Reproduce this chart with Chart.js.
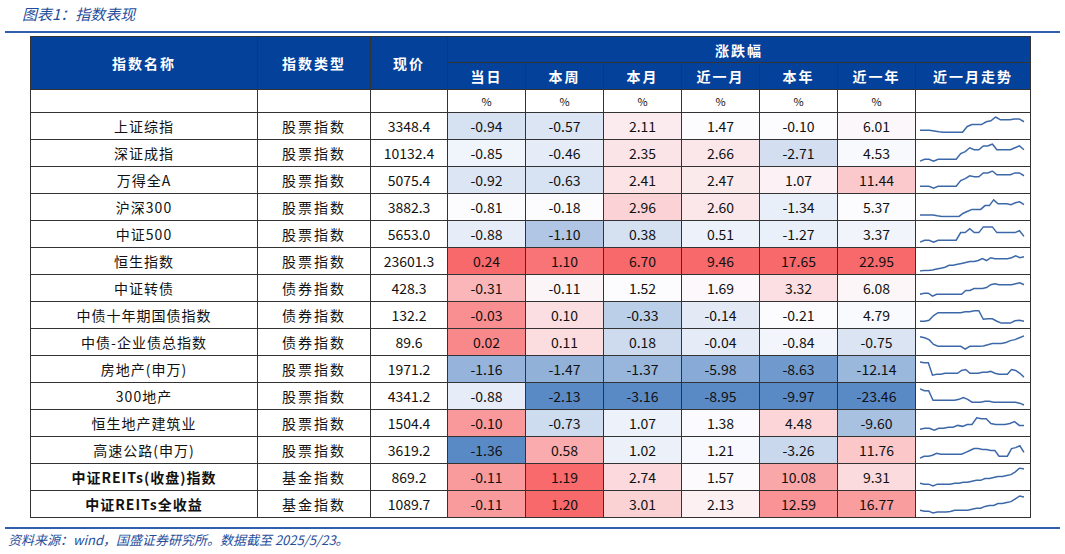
<!DOCTYPE html>
<html><head><meta charset="utf-8">
<script src="https://cdn.jsdelivr.net/npm/chart.js@4"></script>
<style>
body{margin:0;width:1065px;height:554px;background:#fff;font-family:"Noto Sans CJK SC",sans-serif;overflow:hidden;position:relative}
.title{position:absolute;left:22px;top:3px;font-size:15px;color:#1f4e9c;font-style:italic}
.topline{position:absolute;left:5px;top:31px;width:1055px;height:2px;background:#2f5fad}
.botline{position:absolute;left:5px;top:527px;width:1055px;height:2px;background:#2f5fad}
.src{position:absolute;left:8px;top:530px;font-size:13px;color:#1f4e9c;font-style:italic}
table{position:absolute;left:30px;top:36px;border-collapse:collapse;table-layout:fixed}
td,th{border:1px solid #333;padding:0;text-align:center;font-size:14px;color:#111;overflow:hidden}
th{background:#03419a;color:#fff;font-weight:bold;font-size:14px;letter-spacing:2px}
td.b{font-weight:bold}
canvas{display:block}
</style></head><body>
<div class="title">图表1：指数表现</div>
<div class="topline"></div>
<table id="t"></table>
<div class="botline"></div>
<div class="src">资料来源：wind，国盛证券研究所。数据截至 2025/5/23。</div>
<script>
const names = ['上证综指','深证成指','万得全A','沪深300','中证500','恒生指数','中证转债','中债十年期国债指数','中债-企业债总指数','房地产(申万)','300地产','恒生地产建筑业','高速公路(申万)','中证REITs(收盘)指数','中证REITs全收益'];
const types = ['股票指数','股票指数','股票指数','股票指数','股票指数','股票指数','债券指数','债券指数','债券指数','股票指数','股票指数','股票指数','股票指数','基金指数','基金指数'];
const prices = ['3348.4','10132.4','5075.4','3882.3','5653.0','23601.3','428.3','132.2','89.6','1971.2','4341.2','1504.4','3619.2','869.2','1089.7'];
const periods = ['当日','本周','本月','近一月','本年','近一年'];
const day = [-0.94,-0.85,-0.92,-0.81,-0.88,0.24,-0.31,-0.03,0.02,-1.16,-0.88,-0.10,-1.36,-0.11,-0.11];
const week = [-0.57,-0.46,-0.63,-0.18,-1.10,1.10,-0.11,0.10,0.11,-1.47,-2.13,-0.73,0.58,1.19,1.20];
const month = [2.11,2.35,2.41,2.96,0.38,6.70,1.52,-0.33,0.18,-1.37,-3.16,1.07,1.02,2.74,3.01];
const oneMonth = [1.47,2.66,2.47,2.60,0.51,9.46,1.69,-0.14,-0.04,-5.98,-8.95,1.38,1.21,1.57,2.13];
const ytd = [-0.10,-2.71,1.07,-1.34,-1.27,17.65,3.32,-0.21,-0.84,-8.63,-9.97,4.48,-3.26,10.08,12.59];
const oneYear = [6.01,4.53,11.44,5.37,3.37,22.95,6.08,4.79,-0.75,-12.14,-23.46,-9.60,11.76,9.31,16.77];
const trends = [
  [3,3,3,2.6,2.2,2,2,2,2,2,5,6,6,6,7.5,8,10,8.5,8.5,8.5,9,9,7.5],
  [1,2,2,1,2,2,2,2,2,5,6,8,7,7,9,9,10,7,7,7,7,8,9,7],
  [2,2,2,1,2,2,2,2,2,5,6,7.5,7,7,9,9,10,8,8,8,8,9,9,7.5],
  [1,1,1,1,0.6,0.3,0.3,0.3,0.3,0.3,2,3,4,4,4,6,6,9,7,7,7,6.5,7.5,8,6.5],
  [1,2,2,1,2,2,2,2,2,6,6,8,6,6,9,9,9,6,6,6,6,6,7,4],
  [0,0.2,0.3,0.5,1,1.5,2,3,3,3.5,4,4.5,5,5,5.5,6.5,5.5,7,6.5,6.5,6.5,6.5,7,8,7,7.5],
  [2,2.5,2.5,1,2,2,2,2,2,2,2,4,4,5,5,5,5.5,7,7.5,7,7,7,7,7.5,8,7],
  [2,2,2.5,5,6.5,6.5,6.5,6.5,6.5,6.5,7,7,7.5,7.5,3,3.3,3.3,2,1,1,1,2.2,2.5,2],
  [8,7.5,6.5,4,3,3,3,3,3,3,1.5,3,3,3,3.2,3.8,4.5,4.5,4.5,5,6,6.5,7.5,8.5],
  [9,8.5,8.5,2,2.5,2.5,3,3,3,3,4.5,5,3,3,3,3.5,3.5,4,3,2.5,2.5,2.5,5,4.5,3,1],
  [9,8,8,3,3,3,3,3,3,3.5,4.5,3.5,2,2,2,2.5,2.5,2,2,2,2,2,2,1.5,0.5],
  [2,2.5,2.5,1.5,2.5,2.5,3,3,4,3.5,4.5,4.5,8,7.5,7.5,5,4.5,4.5,4.5,5,6,4,4],
  [1,2,2,2.5,3.5,3,3,3,3,3,3,4,5,6,6,5.5,5.5,5,5,2,2,2,6,6.5,7.5,4],
  [2,1.5,1.5,0.5,1.5,1.5,1.5,1.5,2,2,2.5,2.5,3,3.5,3.5,4.5,4.5,5,5.5,5.5,6,6.5,8,10,9.5],
  [2,1.5,1.5,0.5,1,1,1,1.3,2,2,2,2,2.5,3,3,4,4.5,4.5,5.5,5.5,6,6.5,8,9.5,9]
];
const cols = [day, week, month, oneMonth, ytd, oneYear];
const widths = [227,113,77,78,78,78,78,78,78,115];

function mix(a, b, t) {
  return 'rgb(' + a.map((v, i) => Math.round(v + (b[i] - v) * t)).join(',') + ')';
}
function colour(v, arr) {
  const s = [...arr].sort((x, y) => x - y);
  const mid = s[Math.floor(s.length / 2)], lo = s[0], hi = s[s.length - 1];
  const white = [252,252,255];
  if (v >= mid) return mix(white, [248,105,107], hi === mid ? 0 : (v - mid) / (hi - mid));
  return mix(white, [90,138,198], (mid - v) / (mid - lo));
}

const t = document.getElementById('t');
let h = '<colgroup>' + widths.map(w => `<col style="width:${w}px">`).join('') + '</colgroup>';
h += '<tr style="height:26px"><th rowspan="2">指数名称</th><th rowspan="2">指数类型</th><th rowspan="2">现价</th><th colspan="7">涨跌幅</th></tr>';
h += '<tr style="height:27px">' + periods.map(p => `<th>${p}</th>`).join('') + '<th>近一月走势</th></tr>';
h += '<tr style="height:23px"><td></td><td></td><td></td>' + periods.map(() => '<td style="font-size:11px">%</td>').join('') + '<td></td></tr>';
names.forEach((n, i) => {
  const b = i >= 13 ? ' class="b"' : '';
  h += `<tr style="height:27px"><td${b} style="letter-spacing:1px">${n}</td><td style="letter-spacing:2px">${types[i]}</td><td>${prices[i]}</td>`;
  cols.forEach(c => { h += `<td style="background:${colour(c[i], c)}">${c[i].toFixed(2)}</td>`; });
  h += `<td><canvas id="s${i}" width="112" height="25"></canvas></td></tr>`;
});
t.innerHTML = h;

trends.forEach((d, i) => {
  new Chart(document.getElementById('s' + i), {
    type: 'line',
    data: { labels: d.map((_, k) => k), datasets: [{ data: d, borderColor: '#3d68a8', borderWidth: 1.5, pointRadius: 0, tension: 0 }] },
    options: {
      responsive: false, animation: false,
      layout: { padding: { left: 4, right: 4, top: 3, bottom: 3 } },
      scales: { x: { display: false }, y: { display: false } },
      plugins: { legend: { display: false }, tooltip: { enabled: false } }
    }
  });
});
</script>
</body></html>
